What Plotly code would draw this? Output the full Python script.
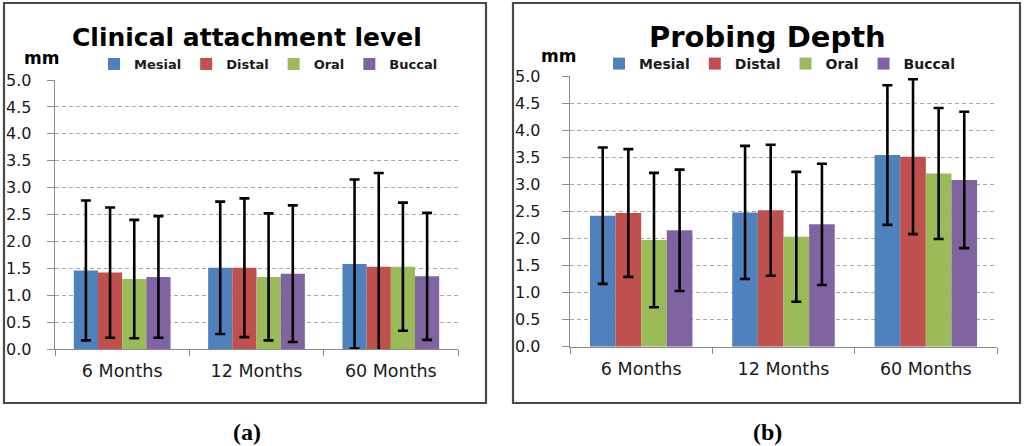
import plotly.graph_objects as go

W, H = 1024, 446

categories = ["6 Months", "12 Months", "60 Months"]
series_names = ["Mesial", "Distal", "Oral", "Buccal"]
colors = ["#4F81BD", "#C0504D", "#9BBB59", "#8064A2"]

# (a) Clinical attachment level: means and SDs per series
cal_mesial = [1.46, 1.51, 1.58]
cal_distal = [1.42, 1.51, 1.53]
cal_oral = [1.30, 1.34, 1.53]
cal_buccal = [1.34, 1.40, 1.35]
cal_mesial_sd = [1.30, 1.23, 1.57]
cal_distal_sd = [1.21, 1.29, 1.74]
cal_oral_sd = [1.10, 1.18, 1.19]
cal_buccal_sd = [1.13, 1.27, 1.18]

# (b) Probing depth
pd_mesial = [2.42, 2.48, 3.54]
pd_distal = [2.47, 2.52, 3.51]
pd_oral = [1.97, 2.03, 3.20]
pd_buccal = [2.15, 2.26, 3.08]
pd_mesial_sd = [1.26, 1.23, 1.29]
pd_distal_sd = [1.18, 1.21, 1.43]
pd_oral_sd = [1.24, 1.20, 1.21]
pd_buccal_sd = [1.12, 1.12, 1.26]

y_ticks = [0.0, 0.5, 1.0, 1.5, 2.0, 2.5, 3.0, 3.5, 4.0, 4.5, 5.0]
y_tick_labels = ["0.0", "0.5", "1.0", "1.5", "2.0", "2.5", "3.0", "3.5", "4.0", "4.5", "5.0"]

cal_values = [cal_mesial, cal_distal, cal_oral, cal_buccal]
cal_sds = [cal_mesial_sd, cal_distal_sd, cal_oral_sd, cal_buccal_sd]
pd_values = [pd_mesial, pd_distal, pd_oral, pd_buccal]
pd_sds = [pd_mesial_sd, pd_distal_sd, pd_oral_sd, pd_buccal_sd]


def px(x):
    return x / W


def py(y):
    return 1 - y / H


fig = go.Figure()

for name, col, vals, sds in zip(series_names, colors, cal_values, cal_sds):
    fig.add_trace(go.Bar(
        x=categories, y=vals, name=name, marker=dict(color=col, line=dict(width=0)),
        error_y=dict(type="data", array=sds, visible=True, color="black", thickness=2.6, width=5),
        xaxis="x", yaxis="y", legend="legend",
    ))

for name, col, vals, sds in zip(series_names, colors, pd_values, pd_sds):
    fig.add_trace(go.Bar(
        x=categories, y=vals, name=name, marker=dict(color=col, line=dict(width=0)),
        error_y=dict(type="data", array=sds, visible=True, color="black", thickness=2.6, width=5),
        xaxis="x2", yaxis="y2", legend="legend2",
    ))

tickfont_y = dict(family="DejaVu Sans", size=16, color="#1a1a1a")
tickfont_x = dict(family="DejaVu Sans", size=17.5, color="#1a1a1a")
axis_col = "#8a8a8a"

common_x = dict(showline=True, linecolor=axis_col, linewidth=1.3, ticks="outside",
                tickson="boundaries", ticklen=6, tickcolor=axis_col, showgrid=False,
                tickfont=tickfont_x, fixedrange=True, ticklabelstandoff=6)
common_y = dict(range=[0, 5], tickvals=y_ticks, ticktext=y_tick_labels, showline=True,
                linecolor=axis_col, linewidth=1.3, ticks="outside", ticklen=7,
                tickcolor=axis_col, showgrid=True, gridcolor="#a8a8a8", griddash="4px,3px",
                gridwidth=1, zeroline=False, tickfont=tickfont_y, fixedrange=True)

fig.update_layout(
    width=W, height=H, autosize=False,
    margin=dict(l=0, r=0, t=0, b=0, pad=0, autoexpand=False),
    paper_bgcolor="white", plot_bgcolor="white",
    barmode="group", bargap=0.28, bargroupgap=0,
    xaxis=dict(domain=[px(55), px(458)], anchor="y", **common_x),
    yaxis=dict(domain=[py(349), py(80)], anchor="x", ticklabelstandoff=12, **common_y),
    xaxis2=dict(domain=[px(570), px(997)], anchor="y2", **common_x),
    yaxis2=dict(domain=[py(346.7), py(76)], anchor="x2", ticklabelstandoff=18, **common_y),
    legend=dict(orientation="h", x=px(94), xanchor="left", y=py(64), yanchor="middle",
                font=dict(family="DejaVu Sans", size=13, color="#1a1a1a", weight="bold"),
                bgcolor="rgba(0,0,0,0)", traceorder="normal"),
    legend2=dict(orientation="h", x=px(599), xanchor="left", y=py(64), yanchor="middle",
                 font=dict(family="DejaVu Sans", size=14, color="#1a1a1a", weight="bold"),
                 bgcolor="rgba(0,0,0,0)", traceorder="normal"),
    showlegend=True,
)

# panel frames
fig.add_shape(type="rect", xref="paper", yref="paper", x0=px(4), x1=px(486), y0=py(403), y1=py(3),
              line=dict(color="#4a4a4a", width=2.2), fillcolor="rgba(0,0,0,0)", layer="below")
fig.add_shape(type="rect", xref="paper", yref="paper", x0=px(513), x1=px(1020), y0=py(403), y1=py(3),
              line=dict(color="#4a4a4a", width=2.2), fillcolor="rgba(0,0,0,0)", layer="below")

annots = [
    dict(text="Clinical attachment level", x=px(247), y=py(37), size=25, family="DejaVu Sans", bold=True),
    dict(text="Probing Depth", x=px(767), y=py(37), size=29, family="DejaVu Sans", bold=True),
    dict(text="mm", x=px(41), y=py(58), size=17, family="DejaVu Sans", bold=True),
    dict(text="mm", x=px(558), y=py(56), size=17, family="DejaVu Sans", bold=True),
    dict(text="(a)", x=px(247), y=py(432), size=24, family="Liberation Serif", bold=True),
    dict(text="(b)", x=px(767), y=py(432), size=24, family="Liberation Serif", bold=True),
]
for a in annots:
    fig.add_annotation(text=a["text"], x=a["x"], y=a["y"], xref="paper", yref="paper",
                       xanchor="center", yanchor="middle", showarrow=False,
                       font=dict(family=a["family"], size=a["size"], color="black",
                                 weight="bold" if a["bold"] else "normal"))

fig.write_html("out.html",
               config={"displayModeBar": False, "staticPlot": True},
               post_script="document.body.style.margin='0px';document.body.style.overflow='hidden';")
